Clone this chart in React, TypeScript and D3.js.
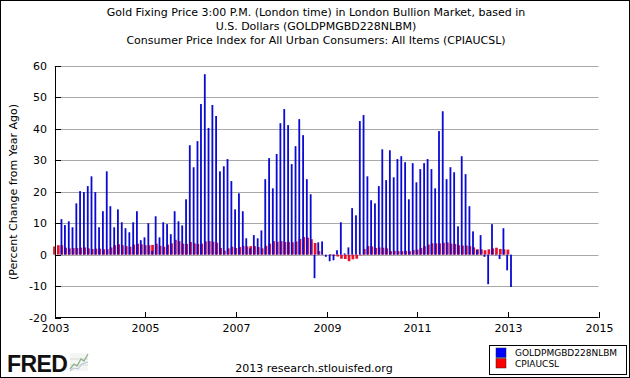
import React from "react";
import * as d3 from "d3";

const titleLines = [
  "Gold Fixing Price 3:00 P.M. (London time) in London Bullion Market, based in",
  "U.S. Dollars (GOLDPMGBD228NLBM)",
  "Consumer Price Index for All Urban Consumers: All Items (CPIAUCSL)",
];
const yAxisLabel = "(Percent Change from Year Ago)";
const yTicks = [-20, -10, 0, 10, 20, 30, 40, 50, 60];
const xTickYears = [2003, 2005, 2007, 2009, 2011, 2013, 2015];
const seriesNames = ["GOLDPMGBD228NLBM", "CPIAUCSL"];
const seriesColors = ["#0a0ad2", "#e3122e"];
const legendColors = ["#0000ff", "#ff0000"];
const creditText = "2013 research.stlouisfed.org";

// Gold: Feb 2003 .. Jan 2013 (percent change from year ago)
const goldStart = [2003, 1];
const goldValues = [
  11.3, 9.4, 10.6, 8.7, 16.3, 20.2, 19.9, 21.8, 24.9, 19.9, 8.7,
  13.8, 26.5, 15.4, 8.7, 14.4, 10.3, 8.4, 7.1, 10.3, 13.8, 4.6, 5.5,
  10.0, 1.2, 12.2, 5.5, 10.3, 9.7, 6.5, 13.8, 10.6, 9.3, 17.6, 34.8,
  27.8, 36.1, 47.9, 57.4, 40.3, 47.6, 44.1, 26.5, 28.1, 30.4, 23.4, 14.4,
  19.5, 13.8, 5.2, 2.0, 6.2, 5.2, 7.7, 24.0, 30.7, 21.1, 32.0, 41.8,
  46.3, 41.2, 28.8, 34.5, 43.1, 38.0, 24.0, 19.2, -7.5, 3.9, 4.2, -0.7,
  -2.1, -1.8, 1.4, 10.3, 0.4, 2.3, 14.8, 12.5, 42.5, 44.4, 24.9, 17.3,
  16.3, 21.8, 33.5, 23.7, 33.2, 24.6, 30.4, 31.3, 29.4, 17.6, 29.1, 23.0,
  27.2, 29.1, 30.4, 27.2, 21.1, 39.3, 45.6, 24.0, 27.8, 26.2, 9.0, 31.3,
  25.6, 15.4, 7.4, 1.5, 6.2, -0.7, -9.4, 9.7, -0.2, -1.4, 8.4, -5.0, -10.3,
];

// CPI: Jan 2003 .. Jan 2013 (percent change from year ago)
const cpiStart = [2003, 0];
const cpiValues = [
  2.6, 3.0, 3.0, 2.2, 2.0, 2.1, 2.1, 2.2, 2.3, 2.0, 1.8, 1.9,
  1.9, 1.7, 1.7, 2.3, 3.0, 3.3, 3.0, 2.7, 2.5, 3.2, 3.5, 3.3,
  3.0, 3.0, 3.1, 3.5, 2.8, 2.5, 3.2, 3.6, 4.7, 4.3, 3.5, 3.4,
  4.0, 3.6, 3.4, 3.5, 4.2, 4.3, 4.1, 3.8, 2.1, 1.3, 2.0, 2.5,
  2.1, 2.4, 2.8, 2.6, 2.7, 2.7, 2.4, 2.0, 2.8, 3.5, 4.3, 4.1,
  4.3, 4.0, 4.0, 3.9, 4.2, 5.0, 5.6, 5.4, 4.9, 3.7, 1.1, 0.1,
  0.0, 0.2, -0.4, -0.6, -1.3, -1.4, -2.1, -1.5, -1.3, -0.2, 1.8, 2.7,
  2.6, 2.1, 2.3, 2.2, 2.0, 1.1, 1.2, 1.1, 1.1, 1.2, 1.1, 1.5,
  1.6, 2.1, 2.7, 3.2, 3.6, 3.6, 3.6, 3.8, 3.9, 3.5, 3.4, 3.0,
  2.9, 2.9, 2.7, 2.3, 1.7, 1.7, 1.4, 1.7, 2.0, 2.2, 1.8, 1.7,
  1.6,
];

const W = 630;
const H = 378;
const font = "'DejaVu Sans', sans-serif";

export default function App() {
  const x = d3
    .scaleTime()
    .domain([new Date(2003, 0, 1), new Date(2015, 0, 1)])
    .range([54.5, 598.5]);
  const y = d3.scaleLinear().domain([-20, 60]).range([317.5, 66]);
  const plotLeft = x.range()[0];
  const plotRight = x.range()[1];
  const y0 = y(0);

  const cpiBars = cpiValues.map((v, i) => ({
    date: new Date(cpiStart[0], cpiStart[1] + i, 1),
    v,
  }));
  const goldBars = goldValues.map((v, i) => ({
    date: new Date(goldStart[0], goldStart[1] + i, 1),
    v,
  }));

  const redW = 2.7;
  const blueW = 1.8;
  const blueOffset = 3.1;

  return (
    <div style={{ position: "absolute", left: 0, top: 0 }}>
      <svg width={W} height={H} style={{ display: "block", background: "#fff" }}>
        <rect x={0.5} y={0.5} width={W - 1} height={H - 1} fill="#fff" stroke="#000" strokeWidth={1} />
        {titleLines.map((t, i) => (
          <text key={i} x={316} y={16 + i * 14} textAnchor="middle" fontFamily={font} fontSize={11} fill="#000">
            {t}
          </text>
        ))}
        {/* gridlines */}
        {yTicks.slice(1).map((t) => (
          <line key={t} x1={plotLeft} x2={plotRight} y1={Math.round(y(t)) + 0.5} y2={Math.round(y(t)) + 0.5} stroke="#a9a9a9" strokeWidth={1} />
        ))}
        {/* bars */}
        {cpiBars.map((b, i) => {
          const cx = x(b.date);
          const top = Math.min(y(b.v), y0);
          const h = Math.abs(y(b.v) - y0);
          return <rect key={"c" + i} x={cx - redW / 2} y={top} width={redW} height={h} fill={seriesColors[1]} />;
        })}
        {goldBars.map((b, i) => {
          const cx = x(b.date) + blueOffset;
          const top = Math.min(y(b.v), y0);
          const h = Math.abs(y(b.v) - y0);
          return <rect key={"g" + i} x={cx - blueW / 2} y={top} width={blueW} height={h} fill={seriesColors[0]} />;
        })}
        {/* axes */}
        <line x1={55.5} x2={55.5} y1={66} y2={318} stroke="#000" strokeWidth={1} />
        <line x1={55} x2={plotRight} y1={317.5} y2={317.5} stroke="#000" strokeWidth={1} />
        {yTicks.map((t) => (
          <g key={t}>
            <line x1={55} x2={61} y1={Math.round(y(t)) + 0.5} y2={Math.round(y(t)) + 0.5} stroke="#000" strokeWidth={1} />
            <text x={47} y={y(t) + 4} textAnchor="end" fontFamily={font} fontSize={11} fill="#000">
              {t}
            </text>
          </g>
        ))}
        {xTickYears.map((yr) => {
          const px = Math.round(x(new Date(yr, 0, 1))) + 0.5;
          return (
            <g key={yr}>
              <line x1={px} x2={px} y1={312} y2={318} stroke="#000" strokeWidth={1} />
              <text x={px} y={332} textAnchor="middle" fontFamily={font} fontSize={11} fill="#000">
                {yr}
              </text>
            </g>
          );
        })}
        <text transform="translate(17,192) rotate(-90)" textAnchor="middle" fontFamily={font} fontSize={11} fill="#000">
          {yAxisLabel}
        </text>
        {/* FRED logo */}
        <text x={7} y={372} fontFamily="'Liberation Sans', Arial, sans-serif" fontWeight="bold" fontSize={23} letterSpacing={-0.6} fill="#111">
          FRED
        </text>
        <g>
          <rect x={70} y={353} width={18} height={18} fill="#f4f6f4" />
          <line x1={70} x2={88} y1={359} y2={359} stroke="#d8dcd8" />
          <line x1={70} x2={88} y1={365} y2={365} stroke="#d8dcd8" />
          <polyline points="70,369 74,364 77,366 81,359 84,361 88,354" fill="none" stroke="#8fb08a" strokeWidth={1.3} />
          <polyline points="70,371 74,368 78,369 82,364 88,362" fill="none" stroke="#b8c4d8" strokeWidth={1.1} />
        </g>
        <text x={314} y={372} textAnchor="middle" fontFamily={font} fontSize={11} fill="#000">
          {creditText}
        </text>
        {/* legend */}
        <rect x={489.5} y={345.5} width={137} height={29} fill="#fff" stroke="#000" strokeWidth={1} />
        {seriesNames.map((n, i) => (
          <g key={n}>
            <rect x={496} y={348 + i * 10.5} width={10} height={9.5} fill={legendColors[i]} stroke="#222" strokeWidth={0.5} />
            <text x={515} y={356 + i * 10.5} fontFamily={font} fontSize={9} fill="#000">
              {n}
            </text>
          </g>
        ))}
      </svg>
    </div>
  );
}
